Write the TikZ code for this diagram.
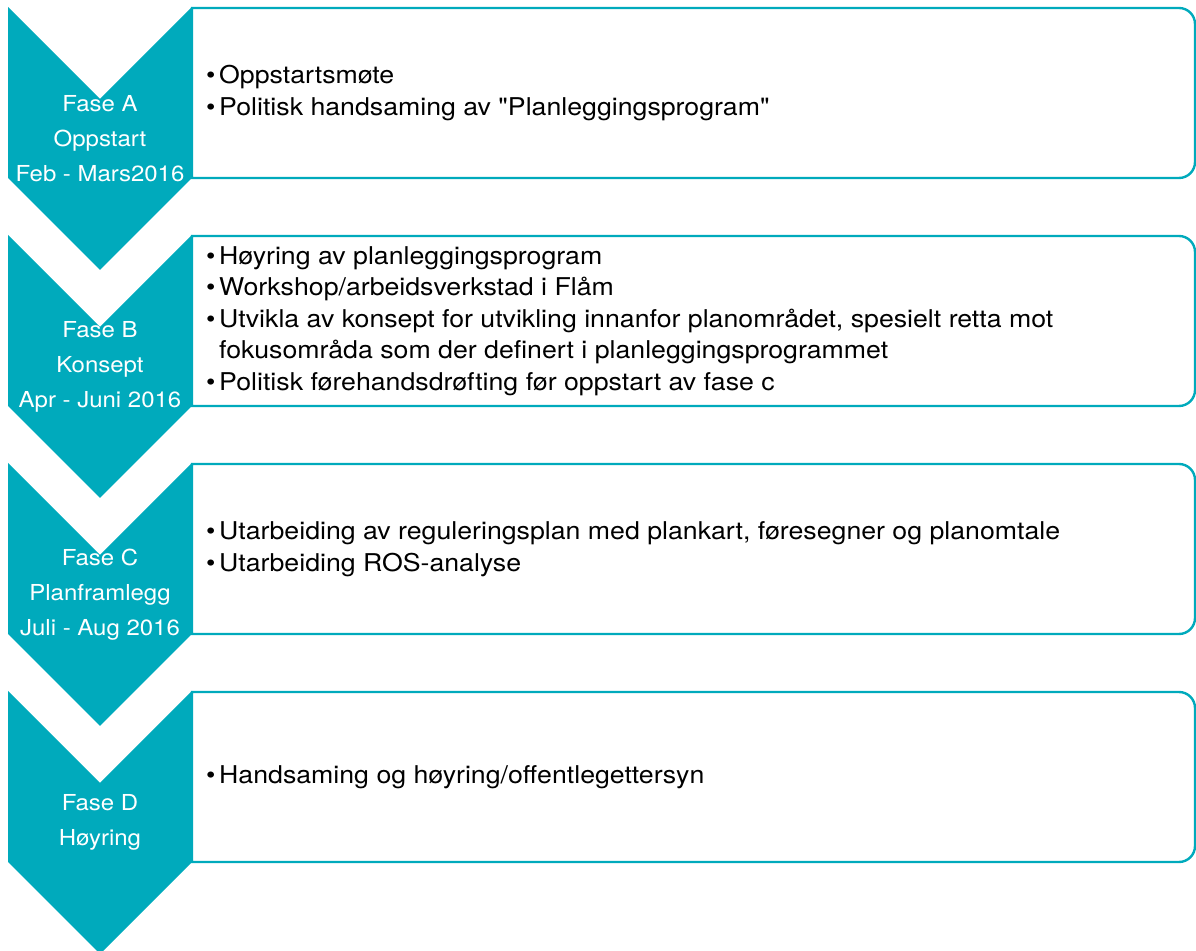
\documentclass[tikz,border=0pt]{standalone}
\usepackage{fontspec}
\setmainfont{TeX Gyre Heros}[FakeStretch=1.09,Ligatures=TeXOff]
\definecolor{fasecol}{RGB}{0,170,188}
\newcommand{\bul}{\makebox[13pt][l]{\textbullet}}

\begin{document}
\begin{tikzpicture}[x=1pt,y=1pt,
  chevron/.style={fill=fasecol},
  fasebox/.style={draw=fasecol,line width=2.4pt,fill=white},
  fasetext/.style={text=white,align=center,inner sep=0pt,
    font=\fontsize{22}{35}\selectfont},
  itemtext/.style={anchor=west,align=left,inner sep=0pt,
    font=\fontsize{24.5}{31.5}\selectfont}]
\useasboundingbox (0,0) rectangle (1196,950);
% Chevrons and boxes
\foreach \t in {943,715,487,259} {
  \fill[chevron] (8,\t) -- ++(92,-92) -- ++(92,92) -- ++(0,-171)
    -- ++(-92,-92) -- ++(-92,92) -- cycle;
  \draw[fasebox] (192,\t-1) -- (1179,\t-1)
    arc[start angle=90,end angle=0,radius=16] -- (1195,\t-155)
    arc[start angle=0,end angle=-90,radius=16] -- (192,\t-171) -- cycle;
}
% Phase labels
\node[fasetext] (faseA) at (100,811.5) {Fase A\\Oppstart\\Feb - Mars2016};
\node[fasetext] (faseB) at (100,583.5) {Fase B\\Konsept\\Apr - Juni 2016};
\node[fasetext] (faseC) at (100,355.5) {Fase C\\Planframlegg\\Juli - Aug 2016};
\node[fasetext] (faseD) at (100,127.5) {Fase D\\Høyring};
% Box contents
\node[itemtext] (tekstA) at (206,857) {\bul Oppstartsmøte\\
  \bul Politisk handsaming av "Planleggingsprogram"};
\node[itemtext] (tekstB) at (206,629) {\bul Høyring av planleggingsprogram\\
  \bul Workshop/arbeidsverkstad i Flåm\\
  \bul Utvikla av konsept for utvikling innanfor planområdet, spesielt retta mot\\
  \hspace*{13pt}fokusområda som der definert i planleggingsprogrammet\\
  \bul Politisk førehandsdrøfting før oppstart av fase c};
\node[itemtext] (tekstC) at (206,401) {\bul Utarbeiding av reguleringsplan med plankart, føresegner og planomtale\\
  \bul Utarbeiding ROS-analyse};
\node[itemtext] (tekstD) at (206,173) {\bul Handsaming og høyring/offentlegettersyn};
\end{tikzpicture}
\end{document}
